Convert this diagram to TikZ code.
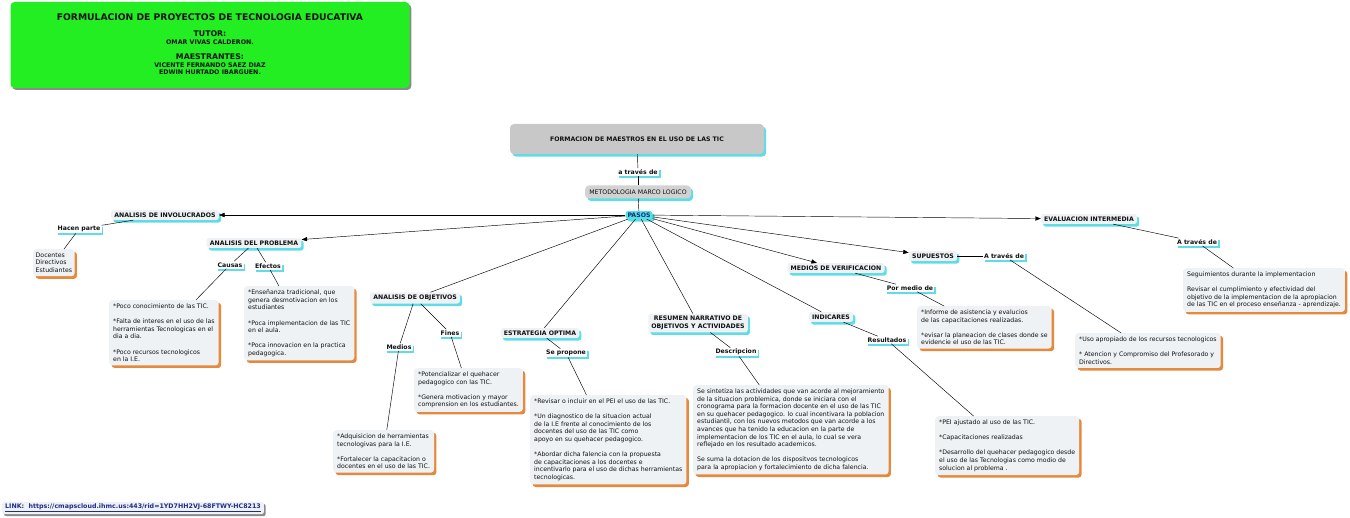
\documentclass[tikz,border=0pt]{standalone}
\usepackage{fontspec}
\setmainfont{DejaVu Sans}
\usepackage{xcolor}
\usetikzlibrary{arrows.meta,shadows}
\definecolor{MapFill}{HTML}{EEF2F4}
\definecolor{MapCyan}{HTML}{5FDCE6}
\definecolor{MapOrange}{HTML}{E6893C}
\definecolor{MapGrey}{HTML}{C8C8C8}
\definecolor{MapMethod}{HTML}{D2D2D2}
\definecolor{MapGreen}{HTML}{22EE22}
\definecolor{MapShade}{HTML}{8A8A8A}
\definecolor{MapInk}{HTML}{111111}
\definecolor{MapNavy}{HTML}{1B2A6B}
\definecolor{MapLink}{HTML}{1F2C8A}
\definecolor{MapPasos}{HTML}{4FE2EC}
\newcommand{\TitleFont}{\fontsize{9.2}{11.0}\selectfont\bfseries}
\newcommand{\HeadFont}{\fontsize{7.8}{8.4}\selectfont\bfseries}
\newcommand{\NameFont}{\fontsize{6.3}{7.4}\selectfont\bfseries}
\newcommand{\ConceptFont}{\fontsize{6.2}{7.6}\selectfont\bfseries}
\newcommand{\PhraseFont}{\fontsize{6.2}{7.0}\selectfont\bfseries}
\newcommand{\NoteFont}{\fontsize{6.2}{7.6}\selectfont}
\newcommand{\LinkFont}{\fontsize{6.3}{7.2}\selectfont\bfseries}
\tikzset{
  cyan shadow/.style={drop shadow={shadow xshift=2.2pt,shadow yshift=-2.6pt,fill=MapCyan,opacity=1}},
  orange shadow/.style={drop shadow={shadow xshift=2.4pt,shadow yshift=-2.6pt,fill=MapOrange,opacity=1}},
  grey shadow/.style={drop shadow={shadow xshift=1.8pt,shadow yshift=-2.0pt,fill=MapShade,opacity=1}},
  concept/.style={fill=MapFill,rounded corners=2.5pt,text=MapInk,font=\ConceptFont,
    inner xsep=3.2pt,inner ysep=2.6pt,cyan shadow},
  phrase/.style={fill=white,text=MapInk,font=\PhraseFont,inner xsep=1.2pt,inner ysep=1.2pt,
    drop shadow={shadow xshift=1.8pt,shadow yshift=-2.2pt,fill=MapCyan,opacity=1}},
  note/.style={fill=MapFill,rounded corners=3pt,text=MapInk,font=\NoteFont,align=left,
    anchor=north west,inner xsep=4pt,inner ysep=3.6pt,orange shadow},
  header line/.style={text=MapInk,inner sep=0pt},
  map line/.style={draw=black,line width=0.45pt},
  map arrow/.style={map line,-{Triangle[length=5.5pt,width=4.2pt]}}
}

\begin{document}
\begin{tikzpicture}[x=1pt,y=-1pt]
  \path[use as bounding box] (0,0) rectangle (1350,518);

  % header block
  \node[fill=MapGreen,rounded corners=4pt,minimum width=399pt,minimum height=86pt,grey shadow]
    (header) at (210,45) {};
  \node[header line,font=\TitleFont] (headtitle) at (210,17) {FORMULACION DE PROYECTOS DE TECNOLOGIA EDUCATIVA};
  \node[header line,font=\HeadFont] (headtutor) at (210,34) {TUTOR:};
  \node[header line,font=\NameFont] (headtutorname) at (210,42) {OMAR VIVAS CALDERON.};
  \node[header line,font=\HeadFont] (headmaes) at (210,57) {MAESTRANTES:};
  \node[header line,font=\NameFont] (headmaesone) at (210,65) {VICENTE FERNANDO SAEZ DIAZ};
  \node[header line,font=\NameFont] (headmaestwo) at (210,72) {EDWIN HURTADO IBARGUEN.};

  % root and steps
  \node[concept,fill=MapGrey,minimum width=254pt,minimum height=30pt,rounded corners=4pt]
    (tic) at (637,139) {FORMACION DE MAESTROS EN EL USO DE LAS TIC};
  \node[phrase] (via) at (638,172) {a través de};
  \node[concept,fill=MapMethod,font=\NoteFont,minimum width=106pt,minimum height=13pt,rounded corners=4pt]
    (marco) at (638,192) {METODOLOGIA MARCO LOGICO};
  \node[concept,fill=MapPasos,text=MapNavy,inner xsep=2pt,inner ysep=1.6pt] (pasos) at (639,215) {PASOS};

  \node[concept] (involucrados) at (165,215) {ANALISIS DE INVOLUCRADOS};
  \node[concept] (problema) at (254,243) {ANALISIS DEL PROBLEMA};
  \node[concept] (objetivos) at (415,298) {ANALISIS DE OBJETIVOS};
  \node[concept] (estrategia) at (540,333) {ESTRATEGIA OPTIMA};
  \node[concept,align=center] (resumen) at (698,323) {RESUMEN NARRATIVO DE\\OBJETIVOS Y ACTIVIDADES};
  \node[concept] (indicares) at (831,317) {INDICARES};
  \node[concept] (verificacion) at (836,268) {MEDIOS DE VERIFICACION};
  \node[concept] (supuestos) at (933,256) {SUPUESTOS};
  \node[concept] (evaluacion) at (1089,219) {EVALUACION INTERMEDIA};

  % linking phrases
  \node[phrase] (hacen) at (79,229) {Hacen parte};
  \node[phrase] (causas) at (230,265) {Causas};
  \node[phrase] (efectos) at (268,266) {Efectos};
  \node[phrase] (medios) at (399,347) {Medios};
  \node[phrase] (fines) at (450,333) {Fines};
  \node[phrase] (propone) at (566,353) {Se propone};
  \node[phrase] (descripcion) at (736,352) {Descripcion};
  \node[phrase] (resultados) at (887,340) {Resultados};
  \node[phrase] (pormedio) at (910,288) {Por medio de};
  \node[phrase] (viasup) at (1004,256) {A través de};
  \node[phrase] (viaeval) at (1197,242) {A través de};

  % notes
  \node[note,inner xsep=2.5pt] (docbox) at (33,249) {Docentes\\Directivos\\Estudiantes};
  \node[note] (causasbox) at (109,300) {*Poco conocimiento de las TIC.\\[7.6pt]
    {*}Falta de interes en el uso de las\\herramientas Tecnologicas en el\\dia a dia.\\[7.6pt]
    {*}Poco recursos tecnologicos\\en la I.E.};
  \node[note] (efectosbox) at (244,286) {*Enseñanza tradicional, que\\genera desmotivacion en los\\estudiantes\\[7.6pt]
    {*}Poca implementacion de las TIC\\en el aula.\\[7.6pt]
    {*}Poca innovacion en la practica\\pedagogica.};
  \node[note] (finesbox) at (414,368) {*Potencializar el quehacer\\pedagogico con las TIC.\\[7.6pt]
    {*}Genera motivacion y mayor\\comprension en los estudiantes.};
  \node[note] (mediosbox) at (333,430) {*Adquisicion de herramientas\\tecnologivas para la I.E.\\[7.6pt]
    {*}Fortalecer la capacitacion o\\docentes en el uso de las TIC.};
  \node[note] (proponebox) at (530,395) {*Revisar o incluir en el PEI el uso de las TIC.\\[7.6pt]
    {*}Un diagnostico de la situacion actual\\de la I.E frente al conocimiento de los\\
    docentes del uso de las TIC como\\apoyo en su quehacer pedagogico.\\[7.6pt]
    {*}Abordar dicha falencia con la propuesta\\de capacitaciones a los docentes e\\
    incentivarlo para el uso de dichas herramientas\\tecnologicas.};
  \node[note] (descbox) at (693,385) {Se sintetiza las actividades que van acorde al mejoramiento\\
    de la situacion problemica, donde se iniciara con el\\
    cronograma para la formacion docente en el uso de las TIC\\
    en su quehacer pedagogico. lo cual incentivara la poblacion\\
    estudiantil, con los nuevos metodos que van acorde a los\\
    avances que ha tenido la educacion en la parte de\\
    implementacion de los TIC en el aula, lo cual se vera\\
    reflejado en los resultado academicos.\\[7.6pt]
    Se suma la dotacion de los dispositvos tecnologicos\\
    para la apropiacion y fortalecimiento de dicha falencia.};
  \node[note] (resultbox) at (935,416) {*PEI ajustado al uso de las TIC.\\[7.6pt]
    {*}Capacitaciones realizadas\\[7.6pt]
    {*}Desarrollo del quehacer pedagogico desde\\el uso de las Tecnologias como modio de\\solucion al problema .};
  \node[note] (pormediobox) at (917,306) {*Informe de asistencia y evalucios\\de las capacitaciones realizadas.\\[7.6pt]
    {*}evisar la planeacion de clases donde se\\evidencie el uso de las TIC.};
  \node[note] (supbox) at (1075,333) {*Uso apropiado de los recursos tecnologicos\\[7.6pt]
    {*} Atencion y Compromiso del Profesorado y\\Directivos.};
  \node[note] (evalbox) at (1183,268) {Seguimientos durante la implementacion\\[7.6pt]
    Revisar el cumplimiento y efectividad del\\objetivo de la implementacion de la apropiacion\\
    de las TIC en el proceso enseñanza - aprendizaje.};

  \node[fill=MapFill,rounded corners=2pt,grey shadow,anchor=west,text=MapLink,font=\LinkFont,
    inner xsep=3pt,inner ysep=2pt] (cmaplink) at (2,508)
    {\underline{LINK:\ \ https://cmapscloud.ihmc.us:443/rid=1YD7HH2VJ-68FTWY-HC8213}};

  % connectors
  \foreach \a/\b in {tic/via,via/marco,marco/pasos,
      pasos/objetivos,pasos/estrategia,pasos/resumen,pasos/indicares,
      involucrados/hacen,hacen/docbox,
      problema/causas,causas/causasbox,problema/efectos,efectos/efectosbox,
      objetivos/medios,medios/mediosbox,objetivos/fines,fines/finesbox,
      estrategia/propone,propone/proponebox,
      resumen/descripcion,descripcion/descbox,
      indicares/resultados,resultados/resultbox,
      verificacion/pormedio,pormedio/pormediobox,
      supuestos/viasup,viasup/supbox,
      evaluacion/viaeval,viaeval/evalbox}
    \draw[map line] (\a) -- (\b);
  \foreach \b in {involucrados,problema,verificacion,supuestos,evaluacion}
    \draw[map arrow] (pasos) -- (\b);
\end{tikzpicture}
\end{document}
